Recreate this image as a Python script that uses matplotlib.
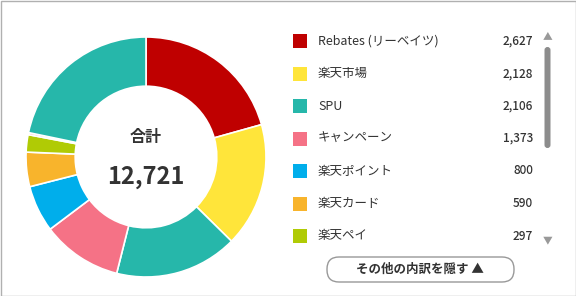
import matplotlib.pyplot as plt
from matplotlib.patches import FancyBboxPatch, Rectangle

plt.rcParams['font.family'] = ['Noto Sans CJK JP', 'DejaVu Sans']

# data
labels = ['Rebates (リーベイツ)', '楽天市場', 'SPU', 'キャンペーン', '楽天ポイント', '楽天カード', '楽天ペイ']
values = [2627, 2128, 2106, 1373, 800, 590, 297]
colors = ['#bf0000', '#ffe53a', '#26b7aa', '#f57286', '#00aeeb', '#f8b42c', '#b0cb05']
# hidden (scrolled) items, only seen in the donut
extra_values = [35, 2765]
extra_colors = ['#f7a3a8', '#26b7aa']
total = 12721

W, H = 576, 296
fig = plt.figure(figsize=(W / 100, H / 100), dpi=100)

# overlay axes in pixel coords
bg = fig.add_axes([0, 0, 1, 1])
bg.set_xlim(0, W)
bg.set_ylim(H, 0)
bg.axis('off')
bg.add_patch(Rectangle((0.5, 0.5), W - 1, H - 1, fill=False, edgecolor='#b0b0b0', lw=1))

# donut
cx, cy, r = 146, 157, 120
pax = fig.add_axes([(cx - r) / W, (H - cy - r) / H, 2 * r / W, 2 * r / H])
pax.pie(values + extra_values, colors=colors + extra_colors, startangle=90, counterclock=False,
        radius=1, wedgeprops=dict(width=0.41, edgecolor='white', linewidth=1.2))
pax.set_aspect('equal')
pax.set_xlim(-1, 1)
pax.set_ylim(-1, 1)
pax.axis('off')

bg.text(cx, 137, '合計', ha='center', va='center', fontsize=11.5, fontweight='bold', color='#333333')
bg.text(cx, 177, f'{total:,}', ha='center', va='center', fontsize=17, fontweight='bold', color='#333333')

# legend list
y0, dy = 41, 32.5
for i, (lab, v, c) in enumerate(zip(labels, values, colors)):
    y = y0 + i * dy
    bg.add_patch(Rectangle((293, y - 7), 14, 14, facecolor=c, edgecolor='none'))
    bg.text(318, y, lab, ha='left', va='center', fontsize=9, color='#333333')
    bg.text(533, y, f'{v:,}', ha='right', va='center', fontsize=8.5, fontweight='medium', color='#333333')

# scrollbar
bg.add_patch(FancyBboxPatch((544.5, 47), 6, 101, boxstyle='round,pad=0,rounding_size=3',
                            facecolor='#8c8c8c', edgecolor='none'))
bg.text(547.5, 36, '▲', ha='center', va='center', fontsize=7, color='#999999')
bg.text(547.5, 240, '▼', ha='center', va='center', fontsize=7, color='#999999')

# button
bg.add_patch(FancyBboxPatch((327, 257), 187, 25, boxstyle='round,pad=0,rounding_size=12',
                            facecolor='white', edgecolor='#999999', lw=1))
bg.text(420, 269.5, 'その他の内訳を隠す ▲', ha='center', va='center', fontsize=9,
        fontweight='bold', color='#333333')

fig.savefig('out.png', dpi=100)
